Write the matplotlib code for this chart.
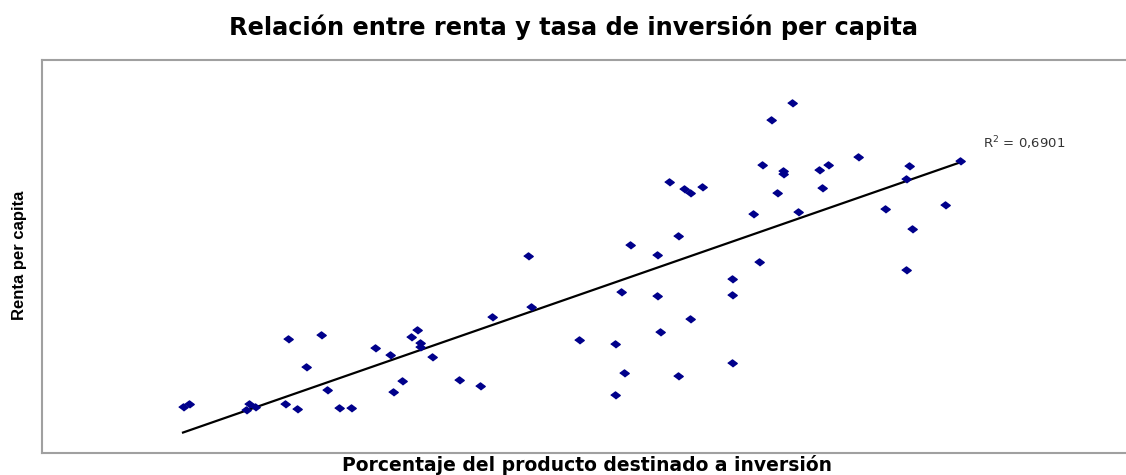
import numpy as np
import matplotlib.pyplot as plt

plt.rcParams['font.family'] = ['DejaVu Sans']

# porcentaje del producto destinado a inversion
inversion = [4.7, 4.9, 6.9, 6.8, 7.1, 8.2, 9.3, 8.8, 8.1, 8.5, 9.5, 9.9, 10.3,
             11.1, 11.6, 12.3, 12.5, 12.6, 12.6, 13.0, 12.0, 11.7, 13.9, 14.6,
             15.0, 16.2, 16.3, 17.9, 19.1, 19.4, 19.1, 19.6, 20.5, 21.2, 19.3,
             20.5, 20.6, 21.6, 21.2, 23.0, 23.0, 23.0, 23.9, 25.0, 24.3, 20.9,
             21.4, 21.6, 22.0, 24.0, 24.7, 24.7, 25.9, 26.2, 27.2, 26.0, 24.5,
             23.7, 25.2, 28.9, 28.8, 28.1, 30.1, 29.0, 28.8, 30.6]
# renta per capita
renta = [2300, 2450, 2450, 2150, 2300, 5700, 5900, 4300, 2450, 2200, 3150, 2250,
         2250, 5250, 4900, 5800, 6150, 5500, 5300, 4800, 3600, 3050, 3650, 3350,
         6800, 9850, 7300, 5650, 5450, 4000, 2900, 10400, 9900, 10850, 8050,
         7850, 6050, 6700, 3850, 8700, 7900, 4500, 9550, 17500, 16650, 13550,
         13200, 13000, 13300, 14400, 14100, 13950, 14150, 14400, 14800, 13250,
         13000, 11950, 12050, 14350, 13700, 12200, 12400, 11200, 9150, 14600]
r2 = 0.6901

x = np.array(inversion)
y = np.array(renta)
coef = np.polyfit(x, y, 1)
xs = np.array([x.min(), x.max()])

fig = plt.figure(figsize=(11.26, 4.75), dpi=100)
ax = fig.add_axes([0.0373, 0.0463, 0.9627, 0.8274])

diamond = [(-1, 0), (0, 0.75), (1, 0), (0, -0.75)]
ax.plot(x, y, linestyle='none', marker=diamond, markersize=6.8,
        color='#00008b', zorder=3)
ax.plot(xs, np.polyval(coef, xs), color='black', linewidth=1.6, zorder=2)

ax.text(31.35, 15500, 'R$^2$ = ' + f'{r2:.4f}'.replace('.', ','),
        fontsize=9.5, color='#333333', va='center')

ax.set_xlim(0, 36.13)
ax.set_ylim(0, 19650)
ax.set_xticks([])
ax.set_yticks([])
for side in ['left', 'top', 'bottom']:
    ax.spines[side].set_color('#a0a0a0')
    ax.spines[side].set_linewidth(1.5)
ax.spines['right'].set_visible(False)

fig.text(0.509, 0.943, 'Relación entre renta y tasa de inversión per capita',
         ha='center', va='center', fontsize=17.3, fontweight='bold')
fig.text(0.521, 0.021, 'Porcentaje del producto destinado a inversión',
         ha='center', va='center', fontsize=13.5, fontweight='bold')
fig.text(0.017, 0.462, 'Renta per capita', rotation=90, ha='center', va='center',
         fontsize=12, fontweight='bold', family=['Liberation Sans', 'DejaVu Sans'])

fig.savefig('out.png', dpi=100)
